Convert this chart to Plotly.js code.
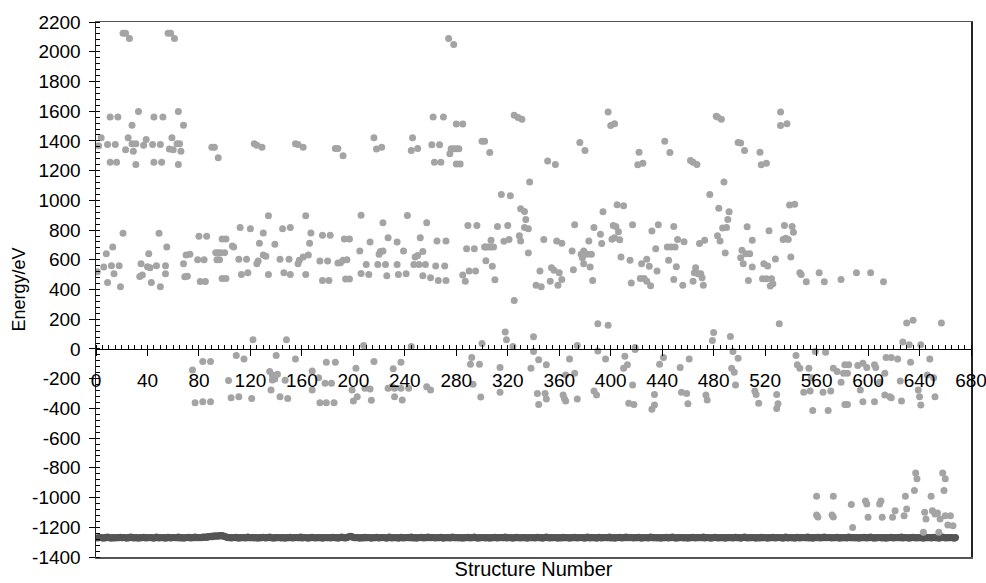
<!DOCTYPE html>
<html>
<head>
<meta charset="utf-8">
<script src="https://cdn.plot.ly/plotly-3.0.1.min.js"></script>
<style>html,body{margin:0;padding:0;background:#fff;}#chart{width:986px;height:583px;}</style>
</head>
<body>
<div id="chart"></div>
<script>
// Lowest-energy band: one value per structure (structure number = position + 1)
const lowestEnergy = [
-1272,-1270,-1268,-1271,-1270,-1274,-1269,-1270,-1266,-1271,-1270,-1273,-1268,-1270,-1272,-1269,-1271,-1270,-1267,-1270,
-1271,-1269,-1270,-1273,-1268,-1270,-1266,-1271,-1270,-1272,-1269,-1270,-1274,-1268,-1270,-1271,-1267,-1270,-1272,-1269,
-1270,-1268,-1271,-1270,-1273,-1269,-1266,-1270,-1272,-1268,-1270,-1271,-1269,-1274,-1270,-1267,-1270,-1272,-1268,-1270,
-1269,-1271,-1270,-1266,-1272,-1270,-1268,-1273,-1270,-1269,-1271,-1267,-1270,-1272,-1268,-1270,-1265,-1271,-1269,-1270,
-1268,-1270,-1266,-1267,-1265,-1268,-1262,-1264,-1260,-1263,-1258,-1261,-1257,-1260,-1258,-1256,-1259,-1255,-1258,-1262,
-1265,-1267,-1270,-1268,-1272,-1270,-1269,-1271,-1267,-1270,-1273,-1268,-1270,-1271,-1269,-1272,-1270,-1266,-1270,-1271,
-1270,-1268,-1272,-1269,-1270,-1274,-1268,-1270,-1271,-1267,-1270,-1272,-1269,-1270,-1266,-1271,-1270,-1273,-1268,-1270,
-1271,-1269,-1270,-1272,-1268,-1270,-1274,-1269,-1270,-1271,-1267,-1270,-1272,-1268,-1270,-1269,-1271,-1270,-1266,-1272,
-1270,-1268,-1271,-1270,-1273,-1269,-1270,-1267,-1271,-1270,-1272,-1268,-1270,-1271,-1269,-1274,-1270,-1268,-1271,-1270,
-1269,-1272,-1270,-1267,-1271,-1270,-1268,-1273,-1270,-1269,-1266,-1271,-1270,-1272,-1268,-1265,-1262,-1260,-1264,-1268,
-1270,-1271,-1269,-1270,-1273,-1268,-1270,-1272,-1267,-1270,-1271,-1269,-1270,-1274,-1268,-1270,-1271,-1267,-1270,-1272,
-1269,-1270,-1268,-1271,-1270,-1273,-1269,-1266,-1270,-1272,-1268,-1270,-1271,-1269,-1274,-1270,-1267,-1270,-1272,-1268,
-1270,-1269,-1271,-1270,-1266,-1272,-1270,-1268,-1273,-1270,-1269,-1271,-1267,-1270,-1272,-1268,-1270,-1265,-1271,-1269,
-1270,-1268,-1270,-1272,-1269,-1271,-1270,-1267,-1270,-1273,-1268,-1270,-1271,-1269,-1272,-1270,-1266,-1270,-1271,-1270,
-1268,-1272,-1269,-1270,-1274,-1268,-1270,-1271,-1267,-1270,-1272,-1269,-1270,-1266,-1271,-1270,-1273,-1268,-1270,-1271,
-1269,-1270,-1272,-1268,-1270,-1274,-1269,-1270,-1271,-1267,-1270,-1272,-1268,-1270,-1269,-1271,-1270,-1266,-1272,-1270,
-1268,-1271,-1270,-1273,-1269,-1270,-1267,-1271,-1270,-1272,-1268,-1270,-1271,-1269,-1274,-1270,-1268,-1271,-1270,-1269,
-1272,-1270,-1267,-1271,-1270,-1268,-1273,-1270,-1269,-1266,-1271,-1270,-1272,-1268,-1270,-1271,-1269,-1270,-1273,-1268,
-1270,-1272,-1267,-1270,-1271,-1269,-1270,-1274,-1268,-1270,-1271,-1267,-1270,-1272,-1269,-1270,-1268,-1271,-1270,-1273,
-1269,-1266,-1270,-1272,-1268,-1270,-1271,-1269,-1274,-1270,-1267,-1270,-1272,-1268,-1270,-1269,-1271,-1270,-1266,-1272,
-1270,-1268,-1273,-1270,-1269,-1271,-1267,-1270,-1272,-1268,-1270,-1265,-1271,-1269,-1270,-1268,-1270,-1272,-1269,-1271,
-1270,-1267,-1270,-1273,-1268,-1270,-1271,-1269,-1272,-1270,-1266,-1270,-1271,-1270,-1268,-1272,-1269,-1270,-1274,-1268,
-1270,-1271,-1267,-1270,-1272,-1269,-1270,-1266,-1271,-1270,-1273,-1268,-1270,-1271,-1269,-1270,-1272,-1268,-1270,-1274,
-1269,-1270,-1271,-1267,-1270,-1272,-1268,-1270,-1269,-1271,-1270,-1266,-1272,-1270,-1268,-1271,-1270,-1273,-1269,-1270,
-1267,-1271,-1270,-1272,-1268,-1270,-1271,-1269,-1274,-1270,-1268,-1271,-1270,-1269,-1272,-1270,-1267,-1271,-1270,-1268,
-1273,-1270,-1269,-1266,-1271,-1270,-1272,-1268,-1270,-1271,-1269,-1270,-1273,-1268,-1270,-1272,-1267,-1270,-1271,-1269,
-1270,-1274,-1268,-1270,-1271,-1267,-1270,-1272,-1269,-1270,-1268,-1271,-1270,-1273,-1269,-1266,-1270,-1272,-1268,-1270,
-1271,-1269,-1274,-1270,-1267,-1270,-1272,-1268,-1270,-1269,-1271,-1270,-1266,-1272,-1270,-1268,-1273,-1270,-1269,-1271,
-1267,-1270,-1272,-1268,-1270,-1265,-1271,-1269,-1270,-1268,-1270,-1272,-1269,-1271,-1270,-1267,-1270,-1273,-1268,-1270,
-1271,-1269,-1272,-1270,-1266,-1270,-1271,-1270,-1268,-1272,-1269,-1270,-1274,-1268,-1270,-1271,-1267,-1270,-1272,-1269,
-1270,-1266,-1271,-1270,-1273,-1268,-1270,-1271,-1269,-1270,-1272,-1268,-1270,-1274,-1269,-1270,-1271,-1267,-1270,-1272,
-1268,-1270,-1269,-1271,-1270,-1266,-1272,-1270,-1268,-1271,-1270,-1273,-1269,-1270,-1267,-1271,-1270,-1272,-1268,-1270,
-1271,-1269,-1274,-1270,-1268,-1271,-1270,-1269,-1272,-1270,-1267,-1271,-1270,-1268,-1273,-1270,-1269,-1266,-1271,-1270,
-1272,-1268,-1270,-1271,-1269,-1270,-1273,-1268
];

// Other (higher-lying) energies: structure number and energy
const otherStructure = [
21,23,26,56,58,61,
11,17,45,52,33,64,28,68,4,25,39,59,216,
2,9,15,28,31,37,44,50,63,65,
90,92,123,125,129,155,157,161,186,188,218,222,
23,29,57,60,66,95,192,11,16,45,51,31,64,
1,6,8,9,13,12,14,18,19,21,
34,36,35,41,40,42,43,49,47,50,54,54,55,
68,70,73,69,71,79,80,81,85,84,86,
93,95,97,100,94,96,98,101,98,101,106,107,
111,117,112,113,118,120,125,126,127,130,130,132,134,134,139,
143,150,145,146,151,151,157,158,161,163,163,165,166,167,
174,180,176,182,176,181,188,190,192,195,193,197,194,197,
205,206,206,212,210,213,219,220,221,223,223,225,227,226,
122,148,208,
274,278,
262,270,280,285,246,245,250,261,267,263,268,
276,278,280,282,275,280,283,
300,302,306,325,328,331,351,357,337,315,322,
376,380,398,400,403,422,421,425,442,446,
242,234,239,234,235,241,
257,252,254,248,250,247,251,256,254,260,
265,272,264,271,266,272,285,287,290,295,289,296,288,294,
302,303,305,307,309,307,303,308,310,312,317,321,320,325,
329,330,330,333,334,333,336,336,348,345,342,346,
354,356,360,362,359,353,358,362,370,371,372,
377,379,382,385,378,379,384,383,386,387,392,393,394,
401,403,407,402,404,406,405,410,408,415,416,417,
424,428,430,423,426,428,431,432,435,436,437,
444,447,450,445,449,449,451,452,457,456,
390,398,318,319,340,300,245,324,374,419,
482,483,486,532,532,537,462,464,467,499,501,504,516,517,521,
477,488,484,492,491,487,490,483,485,489,469,473,
466,465,468,470,471,464,472,
506,510,502,505,508,501,503,510,507,523,519,522,
518,521,525,524,526,528,531,539,543,535,541,534,536,538,542,540,
547,548,552,562,566,579,591,602,612,
630,635,657,480,479,493,627,632,641,
83,89,75,77,83,89,109,115,103,105,111,121,140,155,
135,137,141,137,139,136,143,149,147,
168,173,168,174,179,185,178,183,179,186,
202,199,203,200,209,213,216,214,227,
237,231,230,232,237,243,232,238,257,260,
292,291,298,293,299,314,314,338,344,340,350,
343,349,350,344,368,365,372,363,364,365,374,
390,396,387,389,411,410,413,417,414,418,419,
438,434,434,432,441,454,455,
461,459,460,474,475,495,499,494,496,497,
512,513,515,529,530,529,544,545,547,554,559,556,
550,555,557,565,569,571,567,573,576,
582,585,581,584,579,582,584,
592,596,599,605,606,594,596,605,
613,609,614,618,623,613,617,618,625,626,
633,639,640,641,648,646,651,652,
637,638,658,660,636,659,629,649,560,573,
560,561,572,573,587,588,598,599,609,610,
600,611,619,621,628,630,
644,645,650,652,654,656,660,664,662,666,643,655
];
const otherEnergy = [
2125,2125,2089,2125,2125,2089,
1561,1561,1561,1561,1597,1597,1505,1505,1421,1421,1410,1421,1421,
1367,1376,1376,1381,1381,1370,1376,1376,1381,1381,
1358,1358,1381,1370,1358,1381,1376,1358,1349,1349,1345,1358,
1340,1331,1345,1340,1331,1286,1300,1257,1257,1257,1257,1241,1241,
519,551,641,447,686,560,506,560,418,779,
488,497,574,641,553,547,447,779,560,418,560,506,686,
574,632,637,486,490,601,758,454,454,601,758,
648,648,648,648,601,601,740,740,474,474,693,686,
603,603,817,501,513,808,574,592,711,781,632,623,501,896,704,
603,603,808,513,501,817,574,596,619,896,501,632,711,781,
592,592,765,765,461,461,578,580,596,601,740,740,470,470,
659,900,508,501,569,720,569,637,655,659,849,569,749,492,
62,62,23,
2089,2048,
1561,1561,1514,1514,1421,1336,1349,1374,1374,1257,1257,
1347,1347,1347,1347,1313,1245,1245,
1397,1397,1322,1572,1557,1545,1264,1241,1124,1040,1031,
1390,1336,1595,1503,1516,1324,1239,1250,1397,1322,
898,720,659,569,501,506,
849,749,655,619,628,569,569,569,492,479,
727,727,558,558,461,461,497,456,524,524,831,831,675,675,
686,686,686,686,686,731,594,556,465,824,725,736,831,326,
761,727,943,925,871,817,808,646,736,524,429,418,
546,529,513,468,429,456,727,711,659,533,835,
637,659,637,637,614,574,551,727,461,817,772,709,923,
738,749,734,831,824,788,970,964,619,596,443,835,
574,603,556,474,474,456,425,794,675,524,835,
686,686,686,596,824,468,553,736,722,429,
170,159,114,62,82,37,17,17,23,10,
1566,1561,1545,1595,1503,1516,1268,1257,1241,1390,1385,1336,1324,1239,1250,
1040,1124,946,923,871,813,817,761,727,646,709,731,
547,513,506,506,479,456,429,
822,731,664,641,641,614,574,551,461,795,574,558,
472,472,472,423,438,605,170,968,973,831,824,736,745,736,786,619,
513,501,452,513,452,468,513,513,452,
174,193,174,111,57,84,46,28,28,
-85,-85,-141,-362,-355,-355,-44,-67,-213,-328,-321,-333,-44,-67,
-152,-175,-170,-209,-202,-276,-321,-333,-211,
-148,-193,-276,-362,-362,-362,-231,-231,-89,-89,
-130,-276,-321,-351,-265,-270,-85,-346,-265,
-89,-134,-254,-265,-265,-265,-321,-344,-254,-276,
-58,-103,-103,-238,-324,-125,-292,-130,-73,-17,-107,
-299,-299,-337,-373,-67,-175,-164,-310,-333,-351,-337,
-13,-67,-283,-310,-49,-130,-107,-243,-366,-373,-3,
-103,-306,-378,-405,-58,-125,-292,
-67,-299,-369,-310,-344,-17,-62,-130,-157,-243,
-283,-306,-366,-306,-369,-400,-44,-107,-130,-130,-17,-193,
-292,-283,-414,-292,-414,-283,-22,-130,-152,
-107,-107,-164,-164,-224,-373,-373,
-112,-96,-125,-107,-125,-276,-355,-355,
-164,-224,-58,-58,-67,-310,-321,-328,-215,-351,
-89,-276,-321,-378,-67,-175,-193,-321,
-835,-874,-835,-874,-953,-953,-991,-991,-991,-991,
-1117,-1131,-1117,-1131,-1047,-1201,-1023,-1043,-1043,-1023,
-1133,-1133,-1133,-1088,-1122,-1077,
-1099,-1144,-1088,-1111,-1104,-1144,-1122,-1122,-1185,-1190,-1234,-1234
];

const xTickValues = [0,40,80,120,160,200,240,280,320,360,400,440,480,520,560,600,640,680];
const yTickValues = [-1400,-1200,-1000,-800,-600,-400,-200,0,200,400,600,800,1000,1200,1400,1600,1800,2000,2200];

const lowestStructure = lowestEnergy.map((v, i) => i + 1);

const FONT = 'Liberation Sans, Arial, sans-serif';

const traces = [
  {
    type: 'scatter', mode: 'markers',
    x: lowestStructure, y: lowestEnergy,
    xaxis: 'x', yaxis: 'y',
    marker: {color: '#555555', size: 7},
    hoverinfo: 'x+y', showlegend: false
  },
  {
    type: 'scatter', mode: 'markers',
    x: otherStructure, y: otherEnergy,
    xaxis: 'x2', yaxis: 'y',
    marker: {color: '#a4a4a4', size: 7},
    hoverinfo: 'x+y', showlegend: false
  }
];

const yMin = yTickValues[0], yMax = yTickValues[yTickValues.length - 1];
const zeroPos = (0 - yMin) / (yMax - yMin);

const layout = {
  width: 986, height: 583,
  margin: {l: 96, r: 15, t: 22, b: 26},
  paper_bgcolor: '#ffffff', plot_bgcolor: '#ffffff',
  font: {family: FONT, color: '#000'},
  showlegend: false,
  xaxis: {
    range: [xTickValues[0], xTickValues[xTickValues.length - 1]],
    anchor: 'y',
    showticklabels: false, ticks: '',
    showline: true, linecolor: '#555', linewidth: 1.5, mirror: true,
    showgrid: false, zeroline: false,
    title: {text: 'Structure Number', font: {size: 20, family: FONT, color: '#000'}, standoff: 4},
    automargin: false
  },
  xaxis2: {
    range: [xTickValues[0], xTickValues[xTickValues.length - 1]],
    overlaying: 'x', anchor: 'free', position: zeroPos,
    tickmode: 'array', tickvals: xTickValues, ticktext: xTickValues.map(String),
    ticks: 'outside', ticklen: 6, tickwidth: 1, tickcolor: '#000',
    minor: {dtick: 5, tick0: 0, ticks: 'inside', ticklen: 4, tickcolor: '#000', tickwidth: 1, showgrid: false},
    tickfont: {size: 19, family: FONT, color: '#000'},
    ticklabelstandoff: 8,
    ticklabeloverflow: 'allow',
    showline: true, linecolor: '#000', linewidth: 1.5,
    showgrid: false, zeroline: false, automargin: false
  },
  yaxis: {
    range: [yMin, yMax],
    tickmode: 'array', tickvals: yTickValues, ticktext: yTickValues.map(String),
    ticks: 'outside', ticklen: 6, tickwidth: 1, tickcolor: '#000',
    minor: {dtick: 40, tick0: 0, ticks: 'inside', ticklen: 4, tickcolor: '#000', tickwidth: 1, showgrid: false},
    tickfont: {size: 19, family: FONT, color: '#000'},
    ticklabelstandoff: 4,
    showline: true, linecolor: '#222', linewidth: 1.5, mirror: true,
    showgrid: false, zeroline: false, automargin: false,
    title: {text: 'Energy/eV', font: {size: 18, family: FONT, color: '#000'}, standoff: 2}
  }
};

Plotly.newPlot('chart', traces, layout, {staticPlot: true, displayModeBar: false});
</script>
</body>
</html>
